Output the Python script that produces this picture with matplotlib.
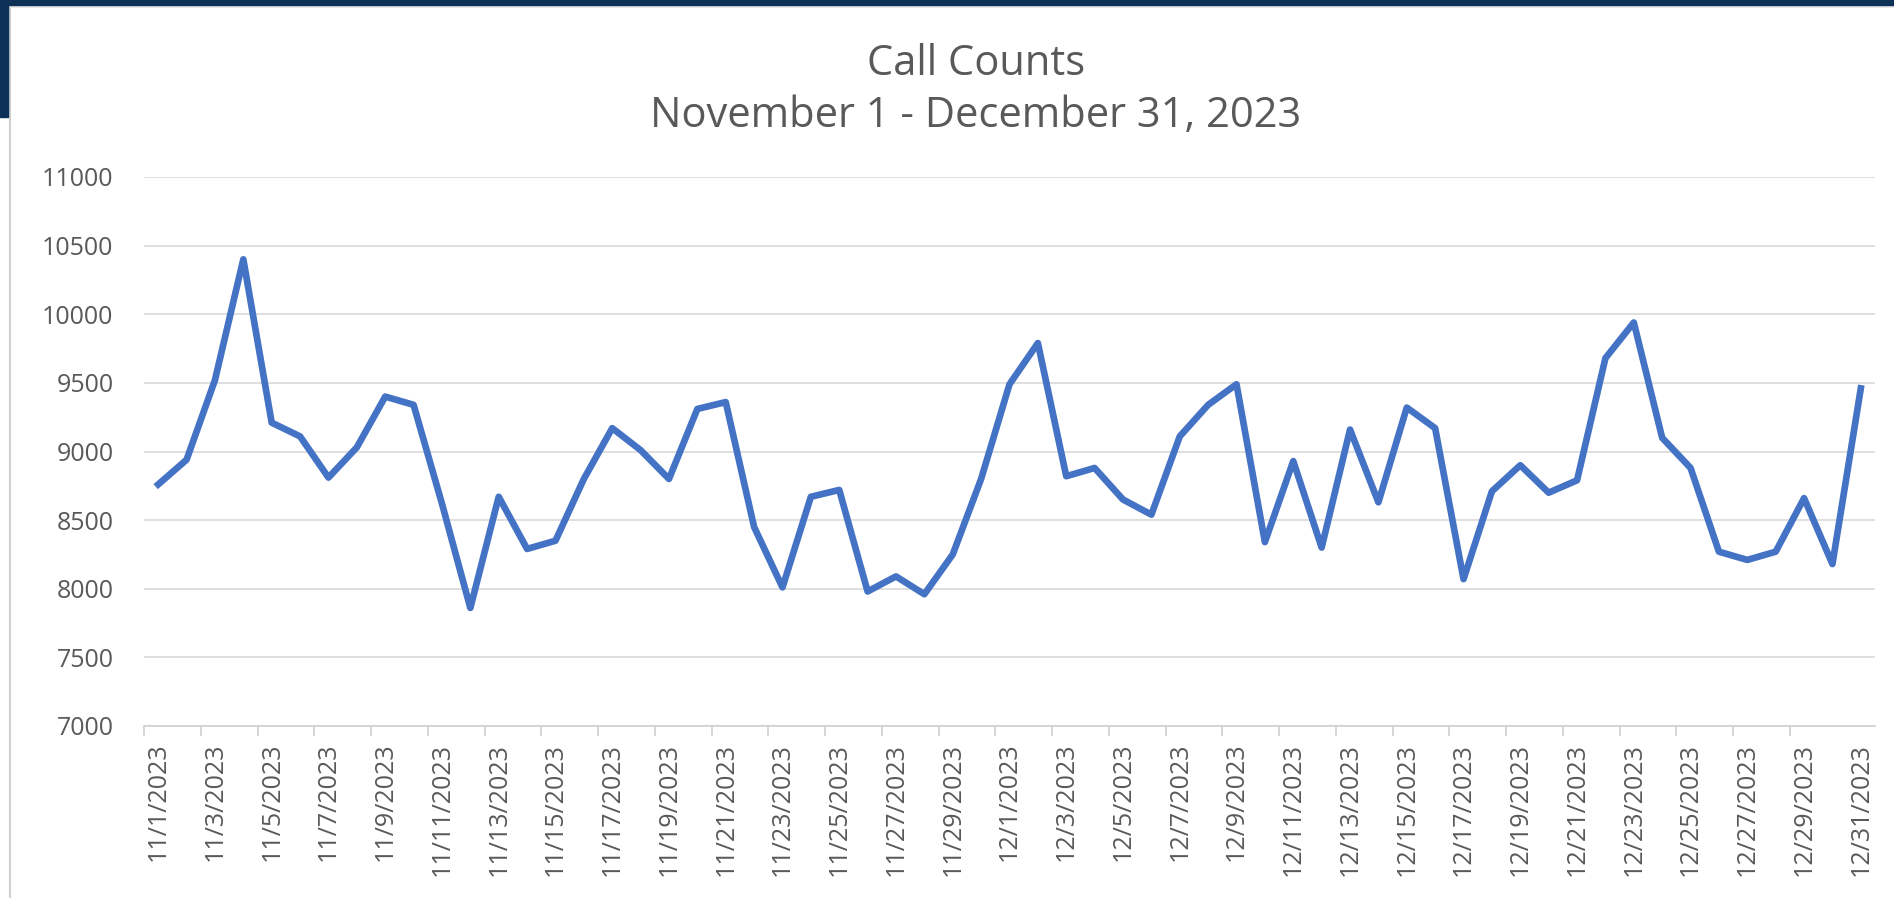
import pandas as pd
import matplotlib.pyplot as plt
from matplotlib.patches import Rectangle
from matplotlib.lines import Line2D

# daily call counts
days = pd.date_range('2023-11-01', '2023-12-31', freq='D')
calls = [8760, 8940, 9520, 10400, 9210, 9110, 8810, 9030, 9400, 9340,
         8620, 7860, 8670, 8290, 8350, 8800, 9170, 9010, 8800, 9310,
         9360, 8450, 8010, 8670, 8720, 7980, 8090, 7960, 8250, 8800,
         9490, 9790, 8820, 8880, 8650, 8540, 9110, 9340, 9490, 8340,
         8930, 8300, 9160, 8630, 9320, 9170, 8070, 8710, 8900, 8700,
         8790, 9680, 9940, 9100, 8880, 8270, 8210, 8270, 8660, 8180,
         9460]
labels = [f'{d.month}/{d.day}/{d.year}' for d in days]
yticks = [7000, 7500, 8000, 8500, 9000, 9500, 10000, 10500, 11000]

plt.rcParams['font.family'] = ['Open Sans', 'DejaVu Sans']

W, H = 1894, 898
fig = plt.figure(figsize=(W / 100, H / 100), dpi=100)
fig.patch.set_facecolor('white')

# slide frame: navy bar on top, navy tab on the left, light grey chart border
fig.add_artist(Rectangle((0, 1 - 5 / H), 1, 5 / H, transform=fig.transFigure,
                         color='#0E3158', zorder=5))
fig.add_artist(Rectangle((0, 1 - 117 / H), 8 / W, 117 / H, transform=fig.transFigure,
                         color='#0E3158', zorder=5))
fig.add_artist(Line2D([9.5 / W, 9.5 / W], [0, 1 - 5 / H], transform=fig.transFigure,
                      color='#D0D0D0', lw=1.5, zorder=4))
fig.add_artist(Line2D([9.5 / W, 1], [1 - 6.5 / H, 1 - 6.5 / H], transform=fig.transFigure,
                      color='#E6E6E6', lw=1.2, zorder=4))

ax = fig.add_axes([144 / W, 1 - 726 / H, (1875 - 144) / W, (726 - 177) / H])
x = list(range(len(calls)))
ax.plot(x, calls, color='#4472C4', lw=4.8, solid_joinstyle='round', zorder=3)

ax.set_xlim(-0.5, len(calls) - 0.5)
ax.set_ylim(7000, 11000)
ax.set_yticks(yticks)
ax.set_yticklabels([str(v) for v in yticks])
ax.tick_params(axis='y', length=0, pad=22, labelsize=18, labelcolor='#595959')

ax.set_xticks(x[::2])
ax.set_xticklabels(labels[::2], rotation=90)
ax.set_xticks([i - 0.5 for i in range(0, len(calls) - 1, 2)], minor=True)
ax.tick_params(axis='x', which='major', length=0, pad=12, labelsize=18,
               labelcolor='#595959')
ax.tick_params(axis='x', which='minor', length=7, width=1.2, color='#D0D0D0')

ax.grid(axis='y', color='#D9D9D9', lw=1.2)
ax.set_axisbelow(True)
for side in ['left', 'right', 'top']:
    ax.spines[side].set_visible(False)
ax.spines['bottom'].set_color('#D0D0D0')
ax.spines['bottom'].set_linewidth(1.2)

fig.text(976 / W, 1 - 75 / H, 'Call Counts', ha='center', va='baseline',
         fontsize=30, color='#595959')
fig.text(976 / W, 1 - 127 / H, 'November 1 - December 31, 2023', ha='center',
         va='baseline', fontsize=30, color='#595959')

fig.savefig('out.png', dpi=100)
